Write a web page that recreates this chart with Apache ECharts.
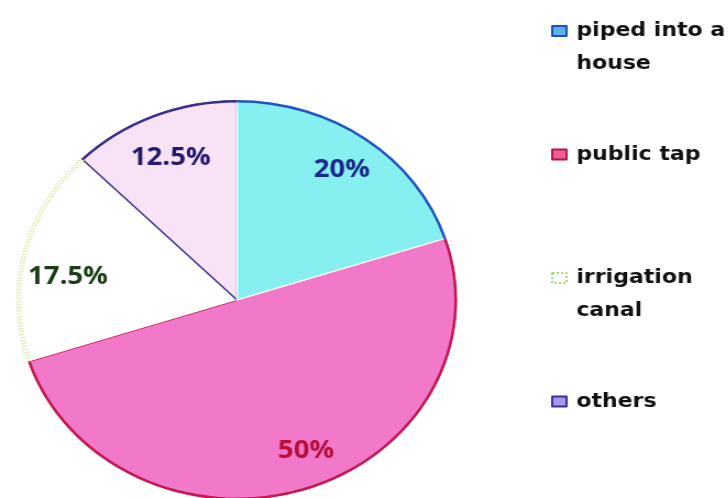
<!DOCTYPE html>
<html lang="en">
<head>
<meta charset="UTF-8" />
<title>Sources of water</title>
<script src="https://cdn.jsdelivr.net/npm/echarts@6/dist/echarts.min.js"></script>
<style>
  body { margin: 0; background: #fff; overflow: hidden; }
  /* the source picture is stretched sideways by about 10% */
  #main { width: 662px; height: 498px; transform: scaleX(1.1); transform-origin: 0 0; }
</style>
</head>
<body>
<div id="main"></div>
<script>
  var categories = ['piped into a\nhouse', 'public tap', 'irrigation\ncanal', 'others'];
  var shares = [20, 50, 17.5, 12.5];
  var valueLabels = ['20%', '50%', '17.5%', '12.5%'];

  var fillColors = ['#86eff0', '#f279c9', '#ffffff', '#f7e3f5'];
  var edgeColors = ['#1f55c0', '#c8174f', '#d6e49c', '#3a2e8c'];
  var labelColors = ['#1c2a8c', '#b5103c', '#1a3d14', '#241a6e'];
  var iconFills = ['#5ab2ee', '#ee5f98', '#ffffff', '#a898ec'];
  var iconEdges = ['#1f4fbf', '#b8144a', '#a6d86e', '#3a2e9c'];
  // nudges for the percentage labels, away from the half radius spot
  var labelShift = [[35, -47], [31, 53], [-54, 1], [-21, -47]];
  // paint order round the circle; the cyan slice goes last so its white edge sits on top
  var drawOrder = [1, 2, 3, 0];

  var chart = echarts.init(document.getElementById('main'));

  var fillData = drawOrder.map(function (i) {
    var border = { 0: ['#ffffff', 1.5], 1: [edgeColors[1], 1.5], 2: ['#ffffff', 0], 3: [edgeColors[3], 1.5] }[i];
    return {
      name: categories[i],
      value: shares[i],
      itemStyle: { color: fillColors[i], borderColor: border[0], borderWidth: border[1] },
      label: { color: labelColors[i] }
    };
  });

  var rimData = drawOrder.map(function (i) {
    if (i === 2) {
      return {
        name: categories[i], value: shares[i],
        itemStyle: { color: 'rgba(0,0,0,0)', borderColor: edgeColors[i], borderWidth: 1.5, borderType: 'dotted' }
      };
    }
    return { name: categories[i], value: shares[i], itemStyle: { color: edgeColors[i], borderWidth: 0 } };
  });

  var option = {
    animation: false,
    legend: {
      orient: 'vertical',
      left: 501,
      top: -18.5,
      padding: 0,
      itemGap: 24.5,
      itemWidth: 13,
      itemHeight: 10,
      icon: 'rect',
      selectedMode: false,
      // rich mode so the vertical padding keeps the first line level with the icon
      textStyle: {
        fontFamily: 'DejaVu Sans', fontWeight: 'bold', fontSize: 20, lineHeight: 33, color: '#111',
        rich: { x: {} }
      },
      data: categories.map(function (name, i) {
        var twoLines = name.indexOf('\n') >= 0;
        return {
          name: name,
          itemStyle: { color: iconFills[i], borderColor: iconEdges[i], borderWidth: 2, borderType: i === 2 ? 'dotted' : 'solid' },
          textStyle: { padding: twoLines ? [33, 0, 0, 4] : [33, 0, 33, 4], backgroundColor: 'rgba(255,255,255,0)' }
        };
      })
    },
    series: [
      {
        type: 'pie',
        center: [215.5, 300],
        radius: 199,
        startAngle: 18,
        clockwise: true,
        emphasis: { disabled: true },
        label: {
          position: 'inside',
          fontFamily: 'Open Sans',
          fontWeight: 'bold',
          fontSize: 25,
          formatter: function (p) { return valueLabels[categories.indexOf(p.name)]; }
        },
        labelLayout: function (p) {
          var s = labelShift[drawOrder[p.dataIndex]];
          return { dx: s[0], dy: s[1] };
        },
        data: fillData
      },
      {
        type: 'pie',
        center: [215.5, 300],
        radius: [197.5, 200],
        startAngle: 18,
        clockwise: true,
        silent: true,
        emphasis: { disabled: true },
        label: { show: false },
        labelLine: { show: false },
        data: rimData
      }
    ]
  };

  chart.setOption(option);
</script>
</body>
</html>
